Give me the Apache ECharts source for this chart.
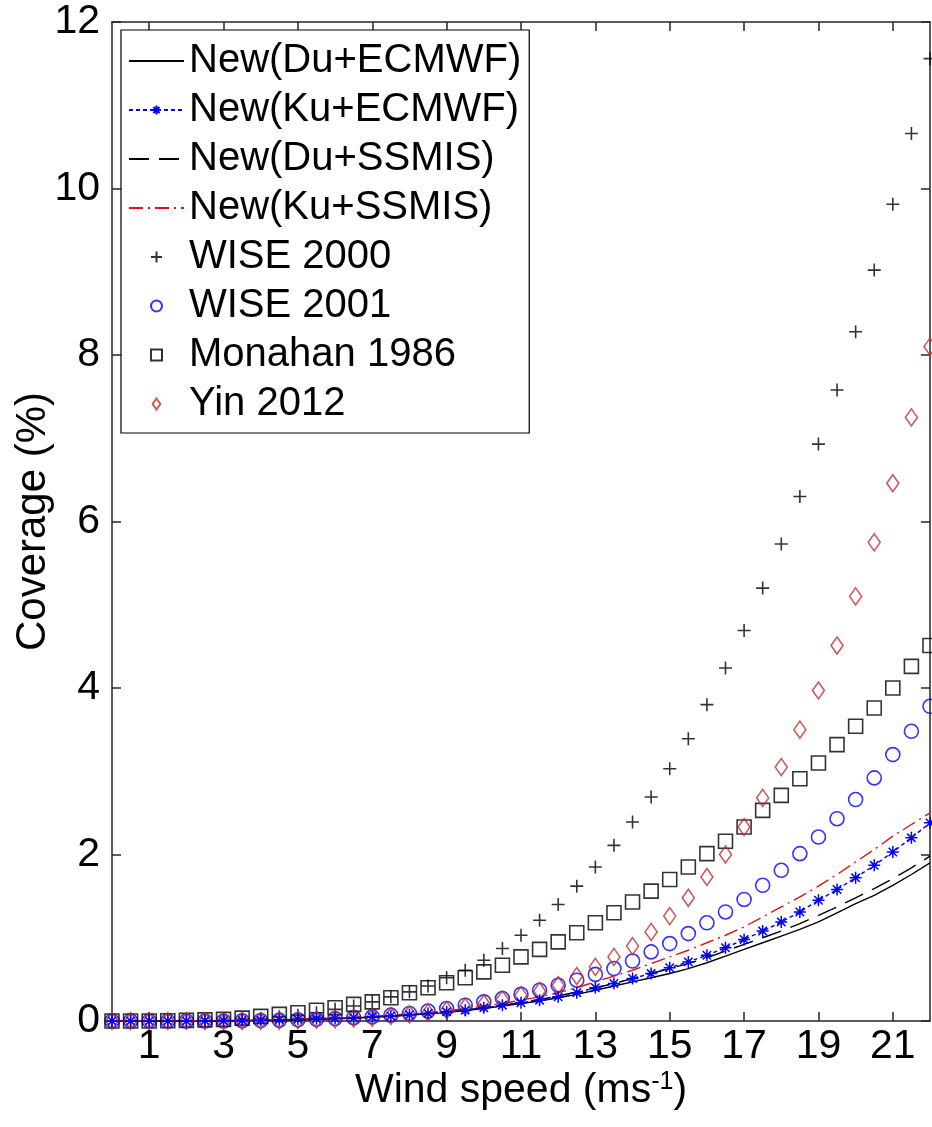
<!DOCTYPE html>
<html>
<head>
<meta charset="utf-8">
<script src="https://cdn.jsdelivr.net/npm/echarts@6/dist/echarts.min.js"></script>
<style>
html,body{margin:0;padding:0;background:#fff;}
#chart{width:932px;height:1127px;}
</style>
</head>
<body>
<div id="chart"></div>
<script>
// Wind speed (m/s) sample positions
const windSpeed = [0,0.5,1,1.5,2,2.5,3,3.5,4,4.5,5,5.5,6,6.5,7,7.5,8,8.5,9,9.5,10,10.5,11,11.5,12,12.5,13,13.5,14,14.5,15,15.5,16,16.5,17,17.5,18,18.5,19,19.5,20,20.5,21,21.5,22];
const xTicks = [1,3,5,7,9,11,13,15,17,19,21];
const yTicks = [0,2,4,6,8,10,12];

const seriesNames = ['New(Du+ECMWF)','New(Ku+ECMWF)','New(Du+SSMIS)','New(Ku+SSMIS)','WISE 2000','WISE 2001','Monahan 1986','Yin 2012'];

const duEcmwf = [0,0,0,0,0,0.001,0.002,0.004,0.007,0.01,0.015,0.02,0.027,0.035,0.045,0.056,0.07,0.085,0.10,0.125,0.15,0.18,0.21,0.24,0.28,0.32,0.37,0.42,0.47,0.52,0.57,0.63,0.70,0.78,0.86,0.94,1.02,1.10,1.19,1.30,1.41,1.51,1.63,1.76,1.90];
const kuEcmwf = [0,0,0,0,0,0.002,0.004,0.007,0.01,0.015,0.02,0.026,0.033,0.04,0.05,0.06,0.075,0.09,0.11,0.13,0.16,0.19,0.22,0.25,0.29,0.34,0.40,0.45,0.51,0.57,0.64,0.71,0.79,0.88,0.98,1.08,1.19,1.31,1.45,1.58,1.72,1.87,2.03,2.20,2.38];
const duSsmis = [0,0,0,0,0,0.001,0.002,0.004,0.007,0.011,0.016,0.022,0.029,0.038,0.048,0.06,0.074,0.09,0.11,0.13,0.16,0.19,0.22,0.26,0.30,0.35,0.40,0.45,0.51,0.57,0.63,0.69,0.76,0.84,0.92,1.00,1.08,1.17,1.27,1.37,1.48,1.59,1.71,1.84,1.98];
const kuSsmis = [0,0,0,0,0,0.002,0.005,0.008,0.012,0.017,0.023,0.03,0.038,0.047,0.058,0.07,0.085,0.10,0.12,0.15,0.18,0.21,0.25,0.29,0.34,0.40,0.47,0.54,0.61,0.69,0.77,0.85,0.94,1.03,1.13,1.25,1.37,1.49,1.62,1.76,1.91,2.06,2.22,2.36,2.50];
const wise2000 = [0,0,0,0,0,0.005,0.01,0.02,0.03,0.05,0.07,0.1,0.14,0.18,0.23,0.29,0.35,0.42,0.52,0.61,0.73,0.87,1.03,1.21,1.40,1.62,1.85,2.11,2.39,2.69,3.03,3.39,3.80,4.24,4.69,5.20,5.73,6.30,6.93,7.58,8.28,9.02,9.81,10.66,11.56];
const wise2001 = [0,0,0,0,0,0,0,0.003,0.006,0.01,0.015,0.02,0.03,0.04,0.05,0.07,0.09,0.12,0.15,0.19,0.23,0.27,0.32,0.37,0.43,0.49,0.56,0.63,0.72,0.83,0.93,1.05,1.18,1.31,1.46,1.63,1.81,2.01,2.21,2.43,2.66,2.92,3.20,3.48,3.78];
const monahan1986 = [0,0,0,0.003,0.007,0.013,0.02,0.035,0.055,0.08,0.10,0.13,0.16,0.20,0.23,0.28,0.34,0.40,0.46,0.52,0.59,0.67,0.77,0.86,0.95,1.06,1.18,1.30,1.43,1.56,1.70,1.85,2.01,2.16,2.33,2.53,2.71,2.91,3.10,3.32,3.54,3.76,4.00,4.26,4.51];
const yin2012 = [0,0,0,0,0,0,0,0,0,0.005,0.01,0.015,0.02,0.03,0.04,0.06,0.08,0.10,0.13,0.17,0.21,0.26,0.31,0.36,0.43,0.54,0.65,0.77,0.90,1.07,1.26,1.48,1.73,2.00,2.33,2.68,3.05,3.50,3.97,4.51,5.10,5.75,6.46,7.25,8.10];

function pairs(vals){ return windSpeed.map((x,i)=>[x, vals[i]]); }

const plusPath = 'path://M0,5L10,5M5,0L5,10';
const starPath = 'path://M0,5L10,5M5,0L5,10M1.5,1.5L8.5,8.5M8.5,1.5L1.5,8.5';
const squarePath = 'path://M0,0L10,0L10,10L0,10Z';
const diamondPath = 'path://M6,0L12,8.5L6,17L0,8.5Z';
const FONT = "Arial, 'Liberation Sans', sans-serif";
const AX = '#262626';

const chart = echarts.init(document.getElementById('chart'), null, {renderer:'canvas'});

const axisCommon = {
  axisLine:{show:true, onZero:false, lineStyle:{color:AX, width:1.5}},
  splitLine:{show:false}
};

const legendData = seriesNames.map((n,i)=> (i===0||i===2||i===3) ? {name:n, itemStyle:{opacity:0}} : {name:n});

const option = {
  animation:false,
  backgroundColor:'#fff',
  grid:{left:112, right:2, top:22, bottom:106, containLabel:false, outerBoundsMode:'none'},
  legend:{
    orient:'vertical', left:121, top:30,
    padding:[11,8,9,7],
    itemGap:9, itemWidth:55, itemHeight:11,
    borderColor:'#000', borderWidth:1.2, backgroundColor:'#fff',
    textStyle:{fontSize:40, color:'#000', fontFamily:FONT},
    data:legendData
  },
  xAxis:[{
    type:'value', min:0, max:22, position:'bottom',
    ...axisCommon,
    axisTick:{show:true, inside:true, length:9, customValues:xTicks, lineStyle:{color:AX, width:1.5}},
    axisLabel:{show:true, customValues:xTicks, fontSize:41, color:'#000', fontFamily:FONT, margin:5},
    name:'{a|Wind speed (ms}{s|-1}{a|)}', nameLocation:'middle', nameGap:49, nameMoveOverlap:false,
    nameTextStyle:{rich:{a:{fontSize:41, color:'#000', fontFamily:FONT}, s:{fontSize:25, color:'#000', fontFamily:FONT, verticalAlign:'top'}}}
  },{
    type:'value', min:0, max:22, position:'top',
    ...axisCommon,
    axisTick:{show:true, inside:true, length:9, customValues:xTicks, lineStyle:{color:AX, width:1.5}},
    axisLabel:{show:false}
  }],
  yAxis:[{
    type:'value', min:0, max:12, interval:2, position:'left',
    ...axisCommon,
    axisTick:{show:true, inside:true, length:9, customValues:yTicks, lineStyle:{color:AX, width:1.5}},
    axisLabel:{show:true, customValues:yTicks, fontSize:41, color:'#000', fontFamily:FONT, margin:12},
    name:'Coverage (%)', nameLocation:'middle', nameGap:58, nameRotate:90, nameMoveOverlap:false,
    nameTextStyle:{fontSize:42, color:'#000', fontFamily:FONT}
  },{
    type:'value', min:0, max:12, interval:2, position:'right',
    ...axisCommon,
    axisTick:{show:true, inside:true, length:9, customValues:yTicks, lineStyle:{color:AX, width:1.5}},
    axisLabel:{show:false}
  }],
  series:[
    {name:seriesNames[0], type:'line', data:pairs(duEcmwf), symbol:'none', smooth:false,
     lineStyle:{color:'#000', width:1.4, type:'solid'}, itemStyle:{color:'#000'}, z:5},
    {name:seriesNames[1], type:'line', data:pairs(kuEcmwf), symbol:starPath, symbolSize:12, showSymbol:true,
     lineStyle:{color:'#0000ff', width:1.4, type:[4,3]}, itemStyle:{color:'rgba(0,0,0,0)', borderColor:'#0000ff', borderWidth:1.5}, z:6},
    {name:seriesNames[2], type:'line', data:pairs(duSsmis), symbol:'none',
     lineStyle:{color:'#000', width:1.4, type:[20,10]}, itemStyle:{color:'#000'}, z:5},
    {name:seriesNames[3], type:'line', data:pairs(kuSsmis), symbol:'none',
     lineStyle:{color:'#e01010', width:1.4, type:[14,5,2,5]}, itemStyle:{color:'#e01010'}, z:5},
    {name:seriesNames[4], type:'scatter', data:pairs(wise2000), symbol:plusPath, symbolSize:13,
     itemStyle:{color:'rgba(0,0,0,0)', borderColor:'#000', borderWidth:1.6}, z:4},
    {name:seriesNames[5], type:'scatter', data:pairs(wise2001), symbol:'circle', symbolSize:14,
     itemStyle:{color:'rgba(0,0,0,0)', borderColor:'#0000ff', borderWidth:1.6}, z:4},
    {name:seriesNames[6], type:'scatter', data:pairs(monahan1986), symbol:squarePath, symbolSize:14,
     itemStyle:{color:'rgba(0,0,0,0)', borderColor:'#000', borderWidth:1.6}, z:4},
    {name:seriesNames[7], type:'scatter', data:pairs(yin2012), symbol:diamondPath, symbolSize:[12,17],
     itemStyle:{color:'rgba(0,0,0,0)', borderColor:'#c03030', borderWidth:1.6}, z:4}
  ]
};
chart.setOption(option);
</script>
</body>
</html>
